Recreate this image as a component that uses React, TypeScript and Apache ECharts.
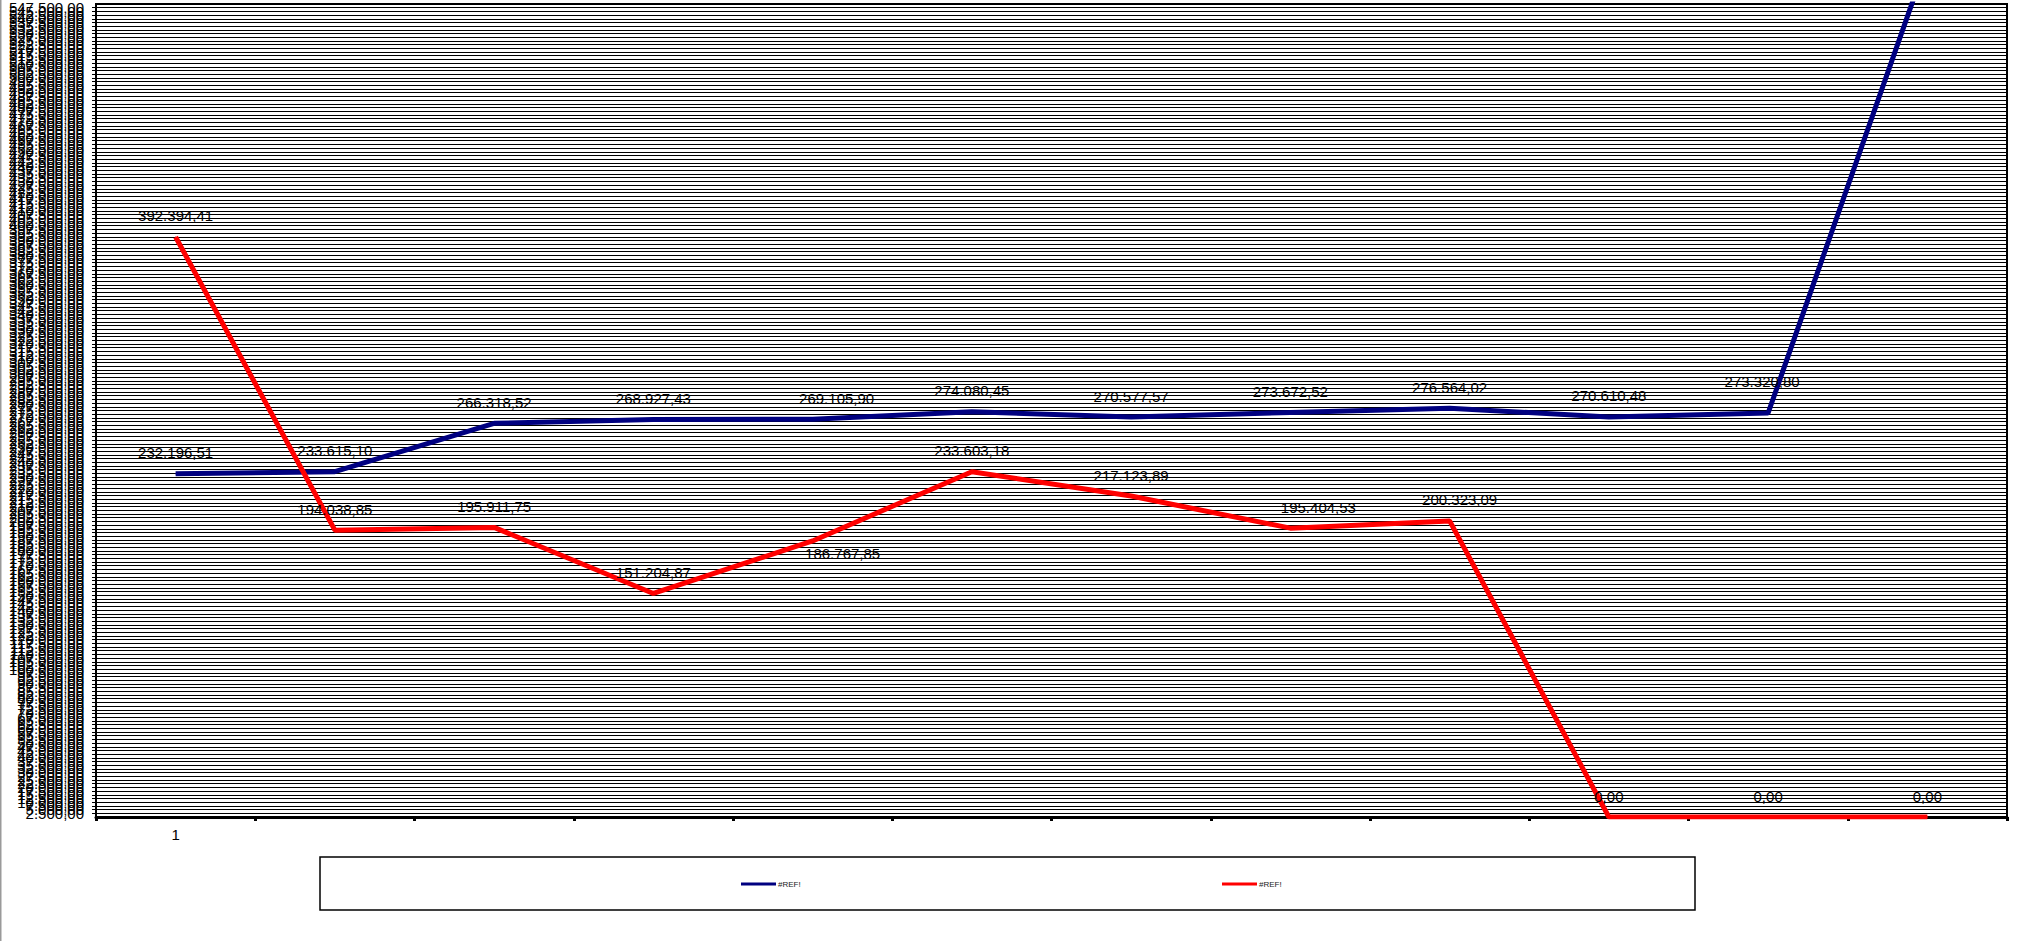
import React, { useEffect, useRef } from "react";
import * as echarts from "echarts";

const categories = ["1", "", "", "", "", "", "", "", "", "", "", ""];
const seriesNames = ["#REF!", "#REF!"];
const blueValues = [
  232196.51, 233615.1, 266318.52, 268927.43, 269105.9, 274080.45, 270577.57,
  273672.52, 276564.02, 270610.48, 273320.8, 580000,
];
const redValues = [
  392394.41, 194038.85, 195911.75, 151204.87, 186767.85, 233603.18, 217123.89,
  195404.53, 200323.09, 0, 0, 0,
];
const yMin = 0;
const yMax = 550000;
const yInterval = 2500;

// label nudges (styling only)
const blueLabelNudge: Record<number, [number, number]> = { 4: [24, 0], 10: [-6, -10] };
const redLabelNudge: Record<number, [number, number]> = { 4: [30, 34], 7: [28, 0], 8: [10, 0] };

const FONT = "'Liberation Sans', Arial, sans-serif";

function fmt(v: number): string {
  const s = Number(v).toFixed(2);
  const [i, d] = s.split(".");
  return i.replace(/\B(?=(\d{3})+(?!\d))/g, ".") + "," + d;
}

function buildData(values: number[], nudge: Record<number, [number, number]>) {
  return values.map((v, i) =>
    nudge[i] ? { value: v, label: { offset: nudge[i] } } : { value: v }
  );
}

export default function App() {
  const ref = useRef<HTMLDivElement>(null);
  useEffect(() => {
    if (!ref.current) return;
    const chart = echarts.init(ref.current, undefined, { renderer: "svg" });
    const labelCommon = {
      show: true,
      position: "top" as const,
      distance: 13,
      fontSize: 15,
      fontFamily: FONT,
      color: "#000",
      formatter: (p: any) => fmt(p.value),
    };
    const legendCommon = {
      top: 875,
      icon: "rect",
      itemWidth: 35,
      itemHeight: 3,
      itemGap: 0,
      textStyle: { fontSize: 8, fontFamily: FONT, color: "#222", padding: [0, 0, 0, -3] },
    };
    chart.setOption({
      animation: false,
      backgroundColor: "#fff",
      grid: {
        left: 96,
        right: 36,
        top: 4,
        bottom: 124,
        show: true,
        borderColor: "#000",
        borderWidth: 2,
        backgroundColor: "transparent",
      },
      xAxis: {
        type: "category",
        data: categories,
        boundaryGap: true,
        axisLine: { show: true, lineStyle: { color: "#000", width: 3 } },
        axisTick: { show: true, interval: 0, length: 4, lineStyle: { color: "#000", width: 3 } },
        axisLabel: { interval: 0, margin: 10, fontSize: 15, fontFamily: FONT, color: "#000" },
        splitLine: { show: false },
      },
      yAxis: {
        type: "value",
        min: yMin,
        max: yMax,
        interval: yInterval,
        axisLine: { show: true, lineStyle: { color: "#000", width: 2 } },
        axisTick: { show: true, length: 4, lineStyle: { color: "#000", width: 1 } },
        axisLabel: {
          margin: 12,
          fontSize: 15,
          fontFamily: FONT,
          color: "#000",
          formatter: (v: number) => fmt(v),
        },
        splitLine: { show: true, lineStyle: { color: "#000", width: 1 } },
      },
      legend: [
        {
          ...legendCommon,
          data: [{ name: "blue" }],
          left: 736,
          formatter: () => seriesNames[0],
        },
        {
          ...legendCommon,
          data: [{ name: "red" }],
          left: 1217,
          formatter: () => seriesNames[1],
        },
      ],
      graphic: [
        {
          type: "line",
          shape: { x1: 0.75, y1: 0, x2: 0.75, y2: 941 },
          style: { stroke: "#9a9a9a", lineWidth: 1.5 },
          silent: true,
        },
        {
          type: "rect",
          shape: { x: 320, y: 857, width: 1375, height: 53 },
          style: { fill: "transparent", stroke: "#000", lineWidth: 1.5 },
          silent: true,
          z: -1,
        },
      ],
      series: [
        {
          name: "blue",
          type: "line",
          data: buildData(blueValues, blueLabelNudge),
          color: "#000080",
          symbol: "circle",
          symbolSize: 1,
          lineStyle: { color: "#000080", width: 5 },
          itemStyle: { color: "#000080" },
          label: labelCommon,
          clip: true,
          z: 3,
        },
        {
          name: "red",
          type: "line",
          data: buildData(redValues, redLabelNudge),
          color: "#ff0000",
          symbol: "circle",
          symbolSize: 1,
          lineStyle: { color: "#ff0000", width: 5 },
          itemStyle: { color: "#ff0000" },
          label: labelCommon,
          clip: true,
          z: 4,
        },
      ],
    });
    return () => chart.dispose();
  }, []);
  return (
    <div
      ref={ref}
      style={{ position: "fixed", left: 0, top: 0, width: 2043, height: 941, background: "#fff" }}
    />
  );
}
